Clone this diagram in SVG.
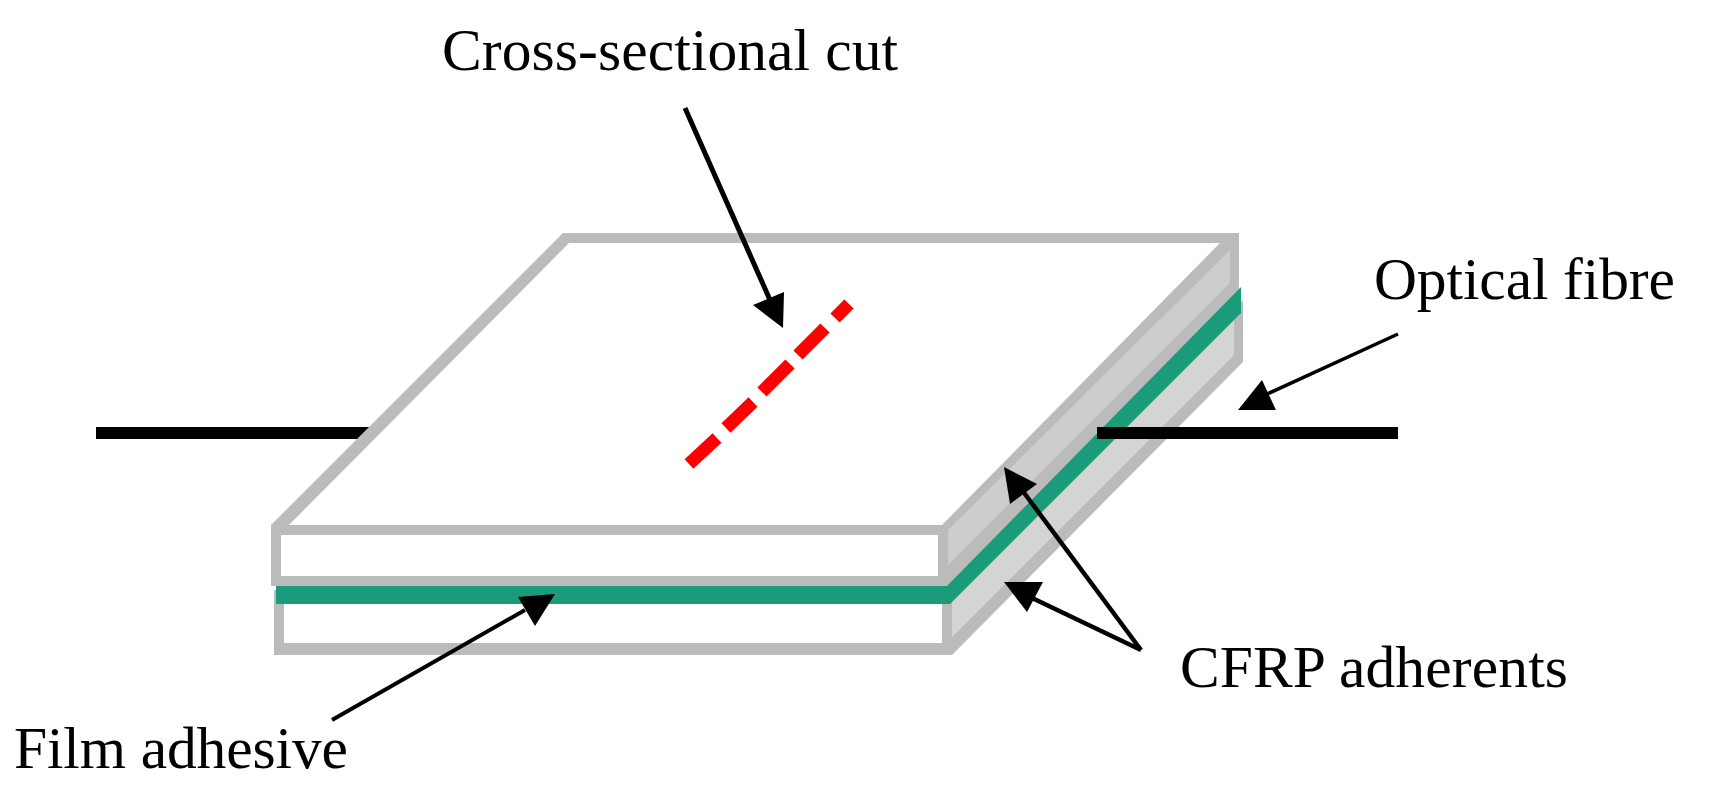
<svg xmlns="http://www.w3.org/2000/svg" width="1711" height="808" viewBox="0 0 1711 808">
<style>
.t{font-family:"Liberation Serif","Times New Roman",serif;font-size:59.5px;fill:#000}
.b{fill:#bbb}
.w{fill:#fff}
.a{stroke:#000;fill:none}
.h{fill:#000}
.f{stroke:#000;stroke-width:12;fill:none}
</style>
<rect width="1711" height="808" fill="#fff"/>
<g id="fibre-rear">
<path class="f" d="M96 433H375"/>
</g>
<g id="lower-adherent">
<polygon class="b" points="274,590 274,655 952,655 1243,362 1243,300 950,590"/>
<polygon class="w" points="284,604 942,604 942,643 284,643"/>
<polygon fill="#d4d4d4" points="952,600 1234,305 1234,355 952,637"/>
</g>
<g id="upper-adherent">
<polygon class="b" points="271,525 271,586 948,586 1239,292 1239,233 563,233"/>
<polygon class="w" points="289,525 569,243 1220,243 942,525"/>
<polygon class="w" points="281,535 938,535 938,576 281,576"/>
<polygon fill="#cdcdcd" points="948,530 1230,250 1230,283 948,565"/>
</g>
<g id="film-adhesive">
<polygon fill="#1a9c7a" points="276,586 947,586 1241,287 1241,313 950,604 276,604"/>
</g>
<g id="fibre-front">
<path class="f" d="M1097 433H1398"/>
</g>
<g id="cut">
<path d="M689 464L717 438M726 428L753 402M762 392L790 364M798 355L825 328M835 318L849 304" stroke="#f00" stroke-width="13" fill="none"/>
</g>
<g id="connectors">
<path class="a" stroke-width="5" d="M685 108L770 300"/>
<polygon class="h" points="783,328 753,305 784,292"/>
<path class="a" stroke-width="3.5" d="M1398 334L1265 395"/>
<polygon class="h" points="1238,410 1262,380 1276,410"/>
<path class="a" stroke-width="4.5" d="M1141 650L1022 490"/>
<polygon class="h" points="1004,467 1037,484 1010,504"/>
<path class="a" stroke-width="4.5" d="M1141 650L1030 597"/>
<polygon class="h" points="1004,582 1043,582 1027,612"/>
<path class="a" stroke-width="4" d="M332 720L525 610"/>
<polygon class="h" points="535,626 518,597 555,594"/>
</g>
<g id="labels">
<text class="t" x="442" y="70" textLength="456">Cross-sectional cut</text>
<text class="t" x="1374" y="299" textLength="301">Optical fibre</text>
<text class="t" x="1180" y="687" textLength="388">CFRP adherents</text>
<text class="t" x="14" y="768" textLength="334">Film adhesive</text>
</g>
</svg>
